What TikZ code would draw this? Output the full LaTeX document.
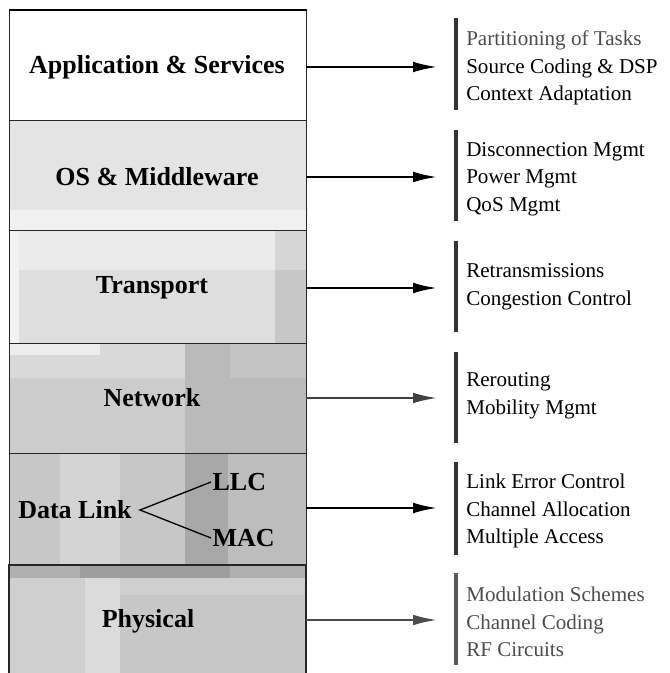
\documentclass[tikz,border=0pt]{standalone}
\usepackage{fontspec}
\setmainfont{Liberation Serif}
\usetikzlibrary{arrows.meta}
\definecolor{cOS}{HTML}{E4E4E4}
\begin{document}
\begin{tikzpicture}[x=0.75pt,y=-0.75pt,
  layerbox/.style={draw=black!85,line width=1pt,minimum width=222.75pt,inner sep=0pt,anchor=north west},
  lname/.style={font=\fontsize{19.5}{21}\selectfont\bfseries,inner sep=1pt},
  ltext/.style={font=\fontsize{15.8}{20.6}\selectfont,align=left,anchor=west,inner sep=0pt},
  bar/.style={line width=2.3pt,black!80},
  conn/.style={line width=1.6pt,-{Latex[length=18pt,width=8pt]}}]
\useasboundingbox (0,0) rectangle (669,673);
% ---- shading patches
% OS
\fill[cOS] (9,120) rectangle (306,230);
\fill[black!6] (9,210) rectangle (306,230);
% Transport
\fill[black!13] (9,230) rectangle (306,343);
\fill[black!8] (9,230) rectangle (306,270);
\fill[black!16] (275,230) rectangle (306,270);
\fill[black!22] (275,270) rectangle (306,343);
\fill[black!5] (9,230) rectangle (19,343);
% Network
\fill[black!20] (9,343) rectangle (306,453);
\fill[black!15] (9,343) rectangle (185,378);
\fill[black!7] (9,343) rectangle (100,355);
\fill[black!27] (185,343) rectangle (306,453);
\fill[black!23] (230,343) rectangle (306,378);
% Data Link
\fill[black!22] (9,453) rectangle (306,565);
\fill[black!17] (60,453) rectangle (120,565);
\fill[black!34] (185,453) rectangle (228,565);
\fill[black!26] (228,453) rectangle (306,565);
% Physical
\fill[black!19] (9,565) rectangle (306,673);
\fill[black!31] (9,565) rectangle (306,578);
\fill[black!38] (80,565) rectangle (230,578);
\fill[black!14] (85,578) rectangle (120,673);
\fill[black!22] (120,595) rectangle (306,673);
% ---- layer boxes
\node[layerbox,minimum height=82.5pt] (app) at (9,10) {};
\node[layerbox,minimum height=82.5pt] (os) at (9,120) {};
\node[layerbox,minimum height=84.75pt] (tr) at (9,230) {};
\node[layerbox,minimum height=82.5pt] (nw) at (9,343) {};
\node[layerbox,minimum height=84pt] (dlk) at (9,453) {};
\draw[black!85,line width=1pt] (9,673) -- (9,565) -- (306,565) -- (306,673);
\draw[line width=2pt] (app.north west) -- (app.north east);
% ---- layer names
\node[lname] (napp) at (157,67) {Application \& Services};
\node[lname] (nos) at (157,177) {OS \& Middleware};
\node[lname] (ntr) at (152,288) {Transport};
\node[lname] (nnw) at (152,398) {Network};
\node[lname] (ndl) at (75,510) {Data Link};
\node[lname,anchor=west] (llc) at (211,482) {LLC};
\node[lname,anchor=west] (mac) at (211,538) {MAC};
\node[lname] (nph) at (148,621) {Physical};
\coordinate (fork) at (140,510);
\draw[line width=1pt] (llc.west) -- (fork) -- (mac.west);
% ---- arrow ends and bars
\foreach \n/\y in {a/67,b/177,c/288,d/398,e/508,f/620}{\coordinate (t\n) at (437,\y);}
\draw[conn] (306,67) coordinate (sa) -- (ta);
\draw[conn] (306,177) coordinate (sb) -- (tb);
\draw[conn] (306,288) coordinate (sc) -- (tc);
\draw[conn,black!75] (306,398) coordinate (sd) -- (td);
\draw[conn] (306,508) coordinate (se) -- (te);
\draw[conn,black!70] (306,620) coordinate (sf) -- (tf);
\draw[bar] (456,18) -- (456,110);
\draw[bar] (456,130) -- (456,221);
\draw[bar] (456,241) -- (456,332);
\draw[bar] (456,352) -- (456,443);
\draw[bar] (456,462) -- (456,555);
\draw[bar,black!65] (456,573) -- (456,665);
% ---- lists
\node[ltext] (la) at (466,68) {\textcolor{black!70}{Partitioning of Tasks}\\Source Coding \& DSP\\Context Adaptation};
\node[ltext] (lb) at (466,179) {Disconnection Mgmt\\Power Mgmt\\QoS Mgmt};
\node[ltext] (lc) at (466,287) {Retransmissions\\Congestion Control};
\node[ltext] (ld) at (466,396) {Rerouting\\Mobility Mgmt};
\node[ltext] (le) at (466,511) {Link Error Control\\Channel Allocation\\Multiple Access};
\node[ltext,text=black!70] (lf) at (466,622) {Modulation Schemes\\Channel Coding\\RF Circuits};
\end{tikzpicture}
\end{document}
